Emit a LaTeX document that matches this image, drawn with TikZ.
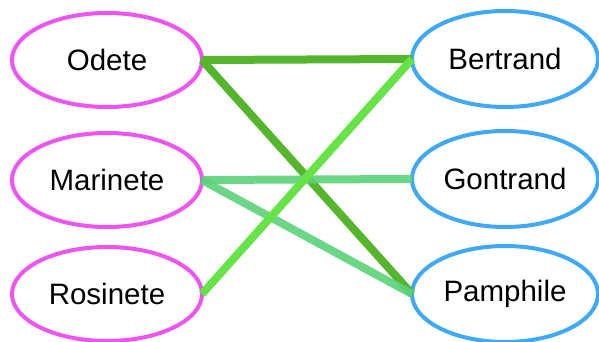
\documentclass[tikz,border=0pt]{standalone}
\usepackage{fontspec}
\setmainfont{Liberation Sans}
\usetikzlibrary{shapes.geometric}
\definecolor{girlpink}{HTML}{EE55F0}
\definecolor{boyblue}{HTML}{3FA9F5}
\definecolor{darkleaf}{HTML}{55B52C}
\definecolor{brightleaf}{HTML}{66E347}
\definecolor{mintleaf}{HTML}{5CD27A}
\tikzset{
  person/.style={ellipse, line width=4pt, inner sep=0pt, outer sep=0pt,
    font=\fontsize{29.5}{34}\selectfont},
  girl/.style={person, draw=girlpink, minimum width=190pt, minimum height=94pt},
  boy/.style={person, draw=boyblue, minimum width=186pt, minimum height=96pt},
  pair/.style={line width=8pt}
}
\begin{document}
\begin{tikzpicture}[x=1pt, y=-1pt]
  \useasboundingbox (0,0) rectangle (599,342);
  % girls on the left
  \node[girl] (odete)    at (107,60)  {Odete};
  \node[girl] (marinete) at (107,180) {Marinete};
  \node[girl] (rosinete) at (107,294) {Rosinete};
  % boys on the right
  \node[boy] (bertrand) at (505,59)  {Bertrand};
  \node[boy] (gontrand) at (505,179) {Gontrand};
  \node[boy] (pamphile) at (505,294) {Pamphile};
  % links between them
  \draw[pair, darkleaf] (odete.east) -- (bertrand.west);
  \draw[pair, darkleaf] (odete.east) -- (pamphile.west);
  \draw[pair, mintleaf, opacity=0.9] (marinete.east) -- (gontrand.west);
  \draw[pair, mintleaf, opacity=0.9] (marinete.east) -- (pamphile.west);
  \draw[pair, brightleaf] (rosinete.east) -- (bertrand.west);
\end{tikzpicture}
\end{document}
